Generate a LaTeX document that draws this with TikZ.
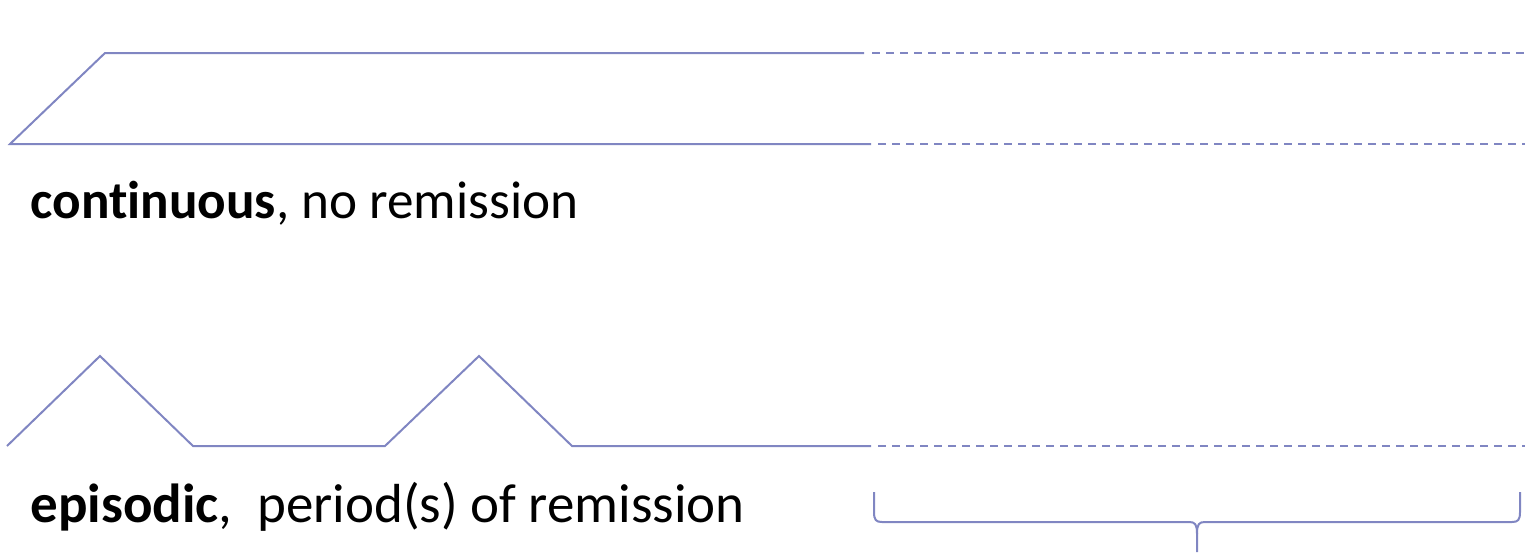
\documentclass[tikz,border=0pt]{standalone}
\usepackage{fontspec}
\setmainfont{Carlito}[Ligatures={NoCommon}]
\definecolor{linec}{RGB}{128,134,194}
\tikzset{
  solidline/.style={draw=linec, line width=1pt},
  dashline/.style={draw=linec, line width=1pt, dash pattern=on 4pt off 3pt},
  lbl/.style={anchor=base west, inner sep=0pt, text=black}
}
\begin{document}
\begin{tikzpicture}[x=0.5pt,y=-0.5pt]
\useasboundingbox (0,0) rectangle (1525,552);
% continuous
\coordinate (c0) at (10,144);
\coordinate (c1) at (105,53);
\coordinate (c2) at (864,53);
\coordinate (c2d) at (872,53);
\coordinate (c3) at (1525,53);
\coordinate (b2) at (871,144);
\coordinate (b2d) at (878,144);
\coordinate (b3) at (1525,144);
\draw[solidline] (b2) -- (c0) -- (c1) -- (c2);
\draw[dashline] (c2d) -- (c3);
\draw[dashline] (b2d) -- (b3);
\node[lbl, font=\fontsize{26.6}{30}\selectfont] (t1) at (30,218) {\textbf{continuous}, no remission};
% episodic
\coordinate (e0) at (7,446);
\coordinate (p1) at (100,356);
\coordinate (e1) at (193,446);
\coordinate (e2) at (385,446);
\coordinate (p2) at (479,356);
\coordinate (e3) at (572,446);
\coordinate (e4) at (871,446);
\coordinate (e4d) at (878,446);
\coordinate (e5) at (1525,446);
\draw[solidline] (e0) -- (p1) -- (e1) -- (e2) -- (p2) -- (e3) -- (e4);
\draw[dashline] (e4d) -- (e5);
\node[lbl, font=\fontsize{27.5}{30}\selectfont] (t2) at (30,522) {\textbf{episodic},\ \ period(s) of remission};
% brace
\coordinate (bl) at (874,492);
\coordinate (bm) at (1197,552);
\coordinate (br) at (1520,492);
\draw[solidline, line join=round] (bl) -- (874,512) .. controls (874,520) and (876,522) .. (882,522)
  -- (1189,522) .. controls (1195,522) and (1197,524) .. (1197,534) -- (bm);
\draw[solidline, line join=round] (br) -- (1520,512) .. controls (1520,520) and (1518,522) .. (1512,522)
  -- (1205,522) .. controls (1199,522) and (1197,524) .. (1197,534);
\end{tikzpicture}
\end{document}
